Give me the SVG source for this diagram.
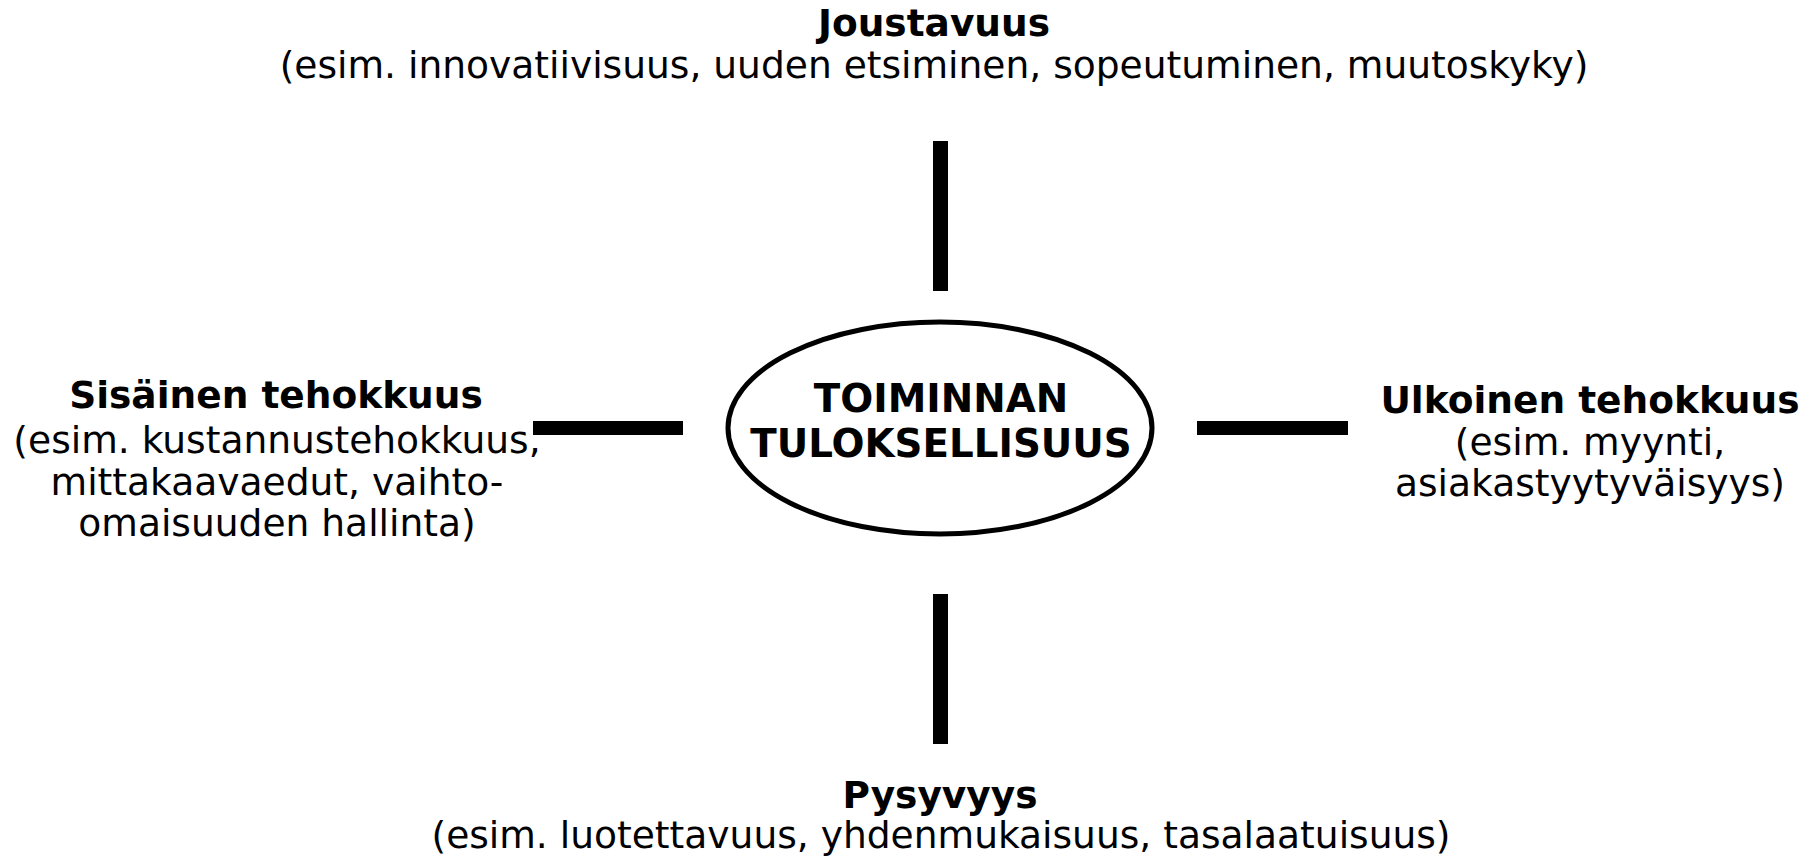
<svg xmlns="http://www.w3.org/2000/svg" width="1817" height="858" viewBox="0 0 1817 858">
<style>
text{font-family:"DejaVu Sans","Verdana",sans-serif;fill:#000;text-anchor:middle}
.b{font-weight:bold;font-size:37.5px}
.r{font-size:37.6px}
.c{font-weight:bold;font-size:38.8px}
.bar{fill:#000}
</style>
<rect width="1817" height="858" fill="#fff"/>
<g id="connectors">
<rect class="bar" x="933" y="141" width="15" height="150"/>
<rect class="bar" x="933" y="594" width="15" height="150"/>
<rect class="bar" x="533" y="421" width="150" height="14"/>
<rect class="bar" x="1197" y="421" width="151" height="14"/>
</g>
<g id="center">
<ellipse cx="940" cy="428" rx="212" ry="106" fill="#fff" stroke="#000" stroke-width="5"/>
<text class="c" x="941" y="412">TOIMINNAN</text>
<text class="c" x="941" y="457">TULOKSELLISUUS</text>
</g>
<g id="joustavuus">
<text class="b" x="934" y="36">Joustavuus</text>
<text class="r" x="934" y="78">(esim. innovatiivisuus, uuden etsiminen, sopeutuminen, muutoskyky)</text>
</g>
<g id="sisainen">
<text class="b" x="276" y="408">Sisäinen tehokkuus</text>
<text class="r" x="277" y="453">(esim. kustannustehokkuus,</text>
<text class="r" x="277" y="495">mittakaavaedut, vaihto-</text>
<text class="r" x="277" y="536">omaisuuden hallinta)</text>
</g>
<g id="ulkoinen">
<text class="b" x="1590" y="413">Ulkoinen tehokkuus</text>
<text class="r" x="1590" y="455">(esim. myynti,</text>
<text class="r" x="1590" y="496">asiakastyytyväisyys)</text>
</g>
<g id="pysyvyys">
<text class="b" x="940" y="808">Pysyvyys</text>
<text class="r" x="941" y="848">(esim. luotettavuus, yhdenmukaisuus, tasalaatuisuus)</text>
</g>
</svg>
